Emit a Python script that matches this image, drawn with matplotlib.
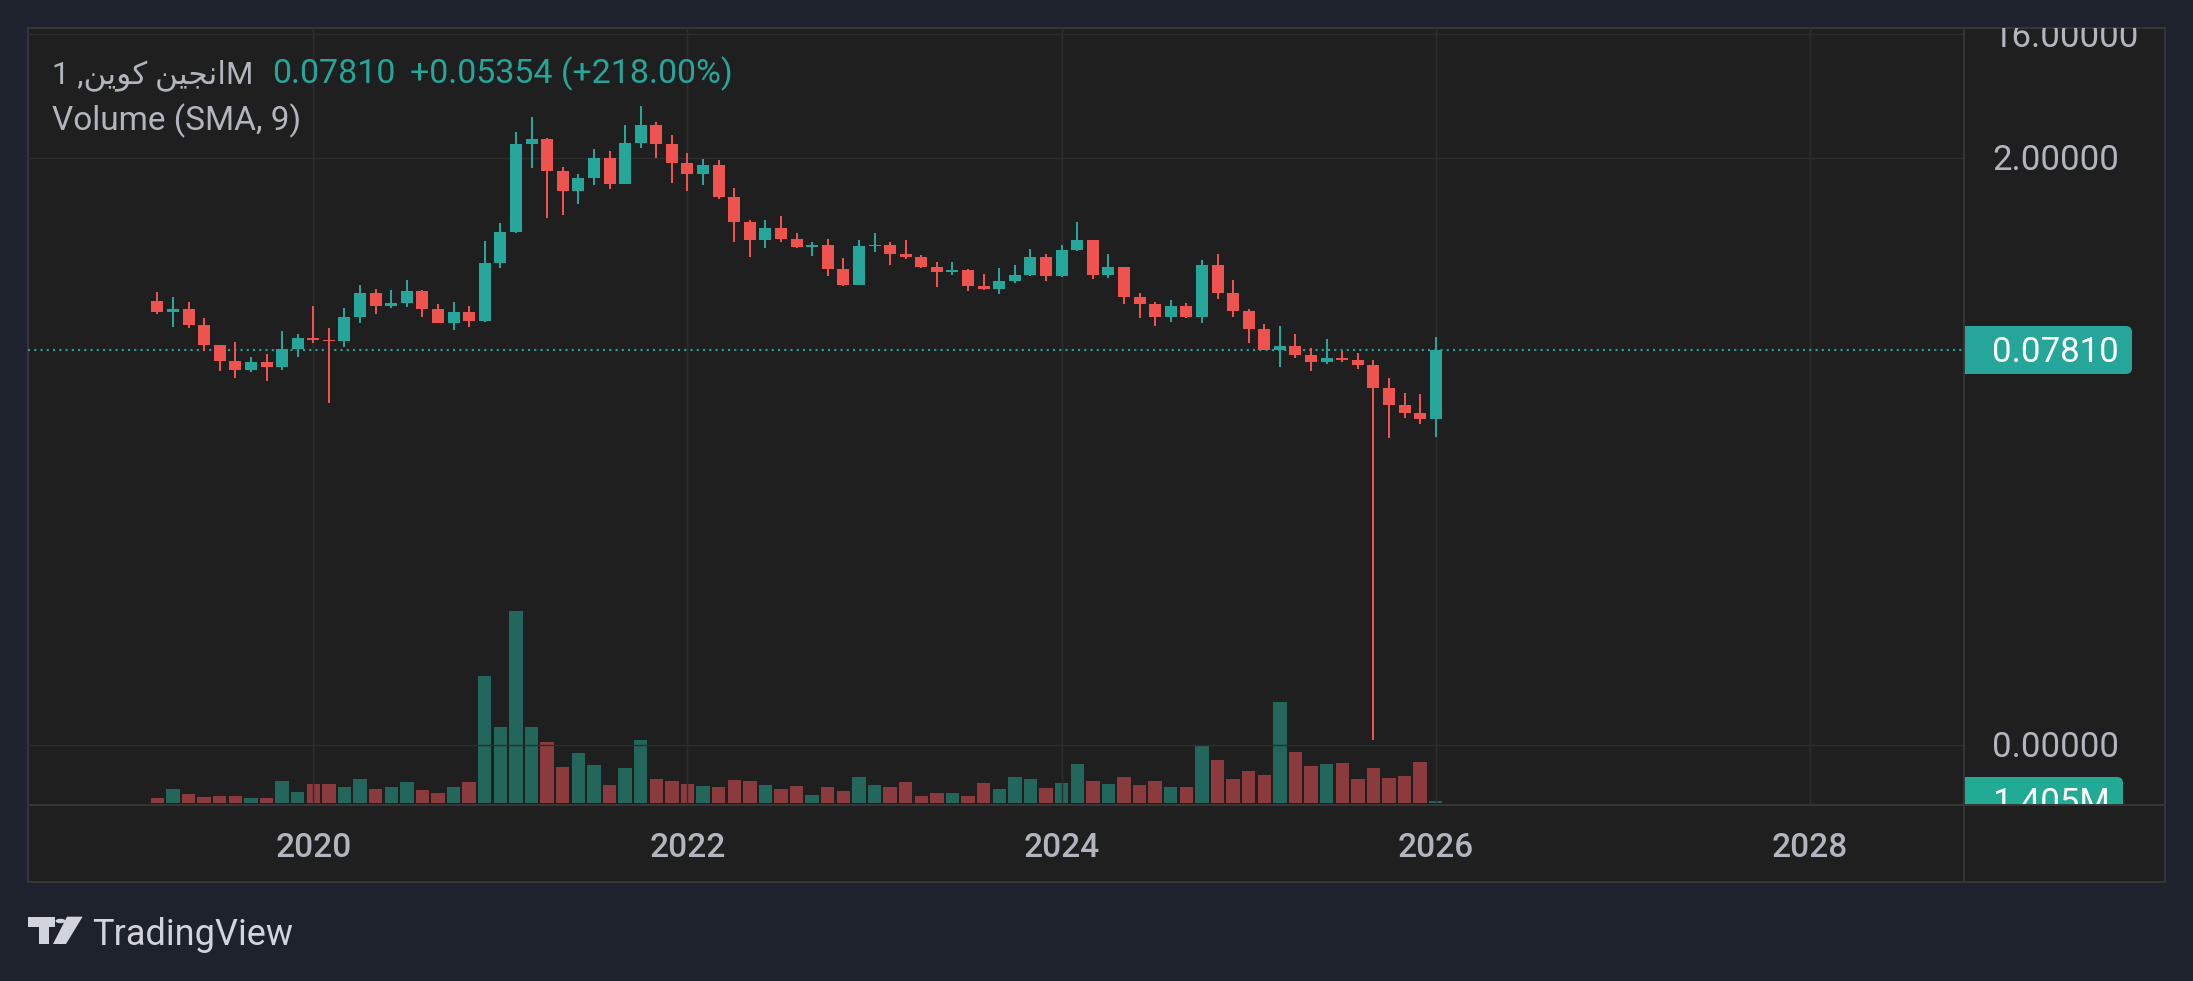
"""
Monthly candlestick chart (log price scale) with a volume overlay,
drawn to look like the TradingView dark-theme snapshot.
"""

import matplotlib
matplotlib.use("Agg")  # save-only, no display
import matplotlib.pyplot as plt
import numpy as np
import pandas as pd
from matplotlib.patches import Rectangle, FancyBboxPatch, Polygon, Circle
from matplotlib.lines import Line2D

W, H = 2193, 981

# ---- data (monthly bars, Mar 2019 .. Jan 2026) ----
months = pd.period_range("2019-03", "2026-01", freq="M")

opens = [
    .1785, .1482, .1560, .1191, .0850, .0649, .0557, .0638, .0586, .0794,
    .0956, .0925, .0905, .1363, .2042, .1640, .1725, .2112, .1560, .1231,
    .1482, .1274, .3387, .5713, 2.520, 2.742, 1.598, 1.141, 1.420, 1.990,
    1.284, 2.563, 3.472, 2.520, 1.829, 1.520, 1.769, 1.031, .6763, .4992,
    .6112, .5078, .4437, .4589, .3062, .2338, .4512, .4589, .3943, .3748,
    .3167, .2910, .3010, .2298, .2185, .2501, .2767, .3748, .2721, .4218,
    .4992, .2767, .3167, .1909, .1697, .1363, .1640, .1363, .3275, .2042,
    .1508, .1113, .0781, .0836, .0718, .0638, .0682, .0660, .0607, .0412,
    .0309, .0270, .02456,
]
highs = [
    .2077, .1909, .1755, .1340, .0852, .0894, .0694, .0730, .1076, .1023,
    .1640, .1132, .1586, .2338, .2185, .2148, .2543, .2148, .1697, .1755,
    .1640, .4909, .6650, 3.086, 3.974, 2.789, 1.710, 1.520, 2.317, 2.240,
    3.472, 4.784, 3.652, 2.934, 2.165, 1.957, 1.924, 1.200, .6995, .6995,
    .7484, .5618, .4827, .5078, .3685, .4992, .5618, .4827, .4992, .3877,
    .3445, .3445, .3050, .2814, .3113, .3275, .4289, .3943, .4589, .6763,
    .5020, .3943, .3190, .2042, .1755, .1815, .1725, .3563, .3943, .2543,
    .1560, .1211, .1171, .1023, .0808, .0940, .0768, .0742, .0660, .0487,
    .0378, .0372, .0973,
]
lows = [
    .1433, .1151, .1132, .0772, .0548, .0487, .0539, .0463, .0557, .0694,
    .0879, .0320, .0822, .1231, .1433, .1586, .1613, .1363, .1225, .1094,
    .1151, .1252, .3113, .5618, 1.681, .7235, .7611, .9162, 1.262, 1.180,
    1.280, 2.356, 1.990, 1.306, 1.141, 1.262, .9969, .4827, .3748, .4362,
    .4827, .4362, .3812, .2721, .2298, .2330, .4078, .3275, .3624, .3113,
    .2260, .2767, .2112, .2148, .2008, .2418, .2740, .2501, .2675, .4150,
    .2587, .2630, .1697, .1340, .1171, .1252, .1340, .1231, .1846, .1363,
    .0879, .0778, .0586, .0682, .0548, .0617, .0638, .0567, .000109, .0177,
    .0248, .0224, .0180,
]
closes = [
    .1482, .1560, .1191, .0850, .0649, .0557, .0638, .0586, .0794, .0956,
    .0925, .0905, .1363, .2042, .1640, .1725, .2112, .1560, .1231, .1482,
    .1274, .3387, .5713, 2.520, 2.742, 1.598, 1.141, 1.420, 1.990, 1.284,
    2.563, 3.472, 2.520, 1.829, 1.520, 1.769, 1.031, .6763, .4992, .6112,
    .5078, .4437, .4589, .3062, .2338, .4512, .4589, .3943, .3748, .3167,
    .2910, .3010, .2298, .2185, .2501, .2767, .3748, .2721, .4218, .4992,
    .2767, .3167, .1909, .1697, .1363, .1640, .1363, .3275, .2042, .1508,
    .1113, .0781, .0836, .0718, .0638, .0682, .0660, .0607, .0412, .0309,
    .0270, .02456, .0781,
]
# volume in millions
volumes = [
    3.5, 9.8, 6.3, 4.2, 4.9, 4.9, 3.5, 3.5, 15.4, 7.7,
    13.3, 13.3, 11.2, 16.8, 9.8, 11.2, 14.7, 9.1, 7.0, 11.2,
    14.7, 88.9, 53.2, 134.4, 53.2, 42.7, 25.2, 35.0, 26.6, 12.6,
    24.5, 44.1, 16.8, 15.4, 13.3, 11.9, 11.2, 16.1, 15.4, 12.6,
    9.8, 11.9, 5.6, 11.2, 8.4, 18.2, 12.6, 11.2, 14.7, 4.9,
    7.0, 7.0, 4.9, 14.0, 9.8, 18.2, 16.8, 10.5, 14.0, 27.3,
    15.4, 13.3, 18.2, 12.6, 15.4, 11.2, 11.2, 39.9, 30.1, 16.8,
    22.4, 19.6, 70.7, 35.7, 25.9, 27.3, 28.0, 16.8, 24.5, 17.5,
    18.9, 28.7, 1.405,
]

year_labels = ["2020", "2022", "2024", "2026", "2028"]
price_ticks = [16.0, 2.0, 1e-4]
price_tick_labels = ["16.00000", "2.00000", "0.00000"]

title_name = "1 ,\uFEE6\uFEF3\uFEEE\uFEDB \uFEE6\uFEF4\uFEA0\uFEE7\uFE8DM"
title_last = "0.07810"
title_change = "+0.05354 (+218.00%)"
volume_title = "Volume (SMA, 9)"
last_volume_label = "1.405M"

# ---- style ----
BG = "#1e222d"
PANE = "#1f1f1f"
BORDER = "#363636"
GRID = "#2d2d2d"
TXT = "#b2b5be"
UP = "#26a69a"
DOWN = "#ef5350"
UP_VOL = "#22665c"
DOWN_VOL = "#8b3a3e"
FONT = ["Roboto", "DejaVu Sans"]
AXIS_FS = 25
LEGEND_FS = 24.5


def fx(x):
    return x / W


def fy(y):
    return 1 - y / H


def box(left, top, right, bottom):
    return [fx(left), fy(bottom), (right - left) / W, (bottom - top) / H]


def main():
    plt.rcParams["font.family"] = FONT
    fig = plt.figure(figsize=(W / 100, H / 100), dpi=100, facecolor=BG)

    # pane background
    fig.patches.append(Rectangle((fx(28), fy(882)), (2165 - 28) / W, (882 - 28) / H,
                                 transform=fig.transFigure, facecolor=PANE,
                                 edgecolor=BORDER, lw=1.4, zorder=-5))

    x = np.arange(len(months))
    o = np.array(opens)
    hi = np.array(highs)
    lo = np.array(lows)
    c = np.array(closes)
    up = c >= o

    first = months[0]
    year_pos = [(pd.Period(f"{y}-01", freq="M") - first).n for y in map(int, year_labels)]

    # x mapping: Jan 2020 sits at px 313.3, one month = 15.59 px
    px0 = 313.3 - year_pos[0] * 15.59
    xlim = ((28 - px0) / 15.59, (1964 - px0) / 15.59)

    # volume overlay (behind)
    axv = fig.add_axes(box(28, 28, 1964, 805))
    axv.set_xlim(*xlim)
    axv.set_ylim(-1.4, 542.5)
    axv.axis("off")
    axv.bar(x, volumes, width=0.86, color=np.where(up, UP_VOL, DOWN_VOL), linewidth=0)

    # price pane
    ax = fig.add_axes(box(28, 28, 1964, 805))
    ax.patch.set_visible(False)
    ax.set_yscale("log")
    ax.set_xlim(*xlim)
    ax.set_ylim(3.63e-5, 17.83)
    ax.axis("off")

    for v in price_ticks:
        ax.axhline(v, color=GRID, lw=1.0, zorder=0)
    for p in year_pos:
        ax.axvline(p, color=GRID, lw=1.0, zorder=0)
        axv.axvline(p, color=GRID, lw=1.0, zorder=0)

    colors = np.where(up, UP, DOWN)
    ax.vlines(x, lo, hi, colors=colors, lw=1.45, zorder=2)
    ax.bar(x, np.abs(c - o), bottom=np.minimum(o, c), width=0.77, color=colors,
           linewidth=0, zorder=3)

    ax.axhline(c[-1], color=UP, lw=1.5, linestyle=(0, (1, 2)), zorder=1)

    # separators
    fig.add_artist(Line2D([fx(1964), fx(1964)], [fy(28), fy(882)], color=BORDER, lw=1.4))
    fig.add_artist(Line2D([fx(28), fx(2165)], [fy(805), fy(805)], color=BORDER, lw=1.4))

    # price scale (clipped to its own box)
    axs = fig.add_axes(box(1964, 28, 2165, 805))
    axs.set_xlim(1964, 2165)
    axs.set_ylim(H - 805, H - 28)
    axs.axis("off")

    def ydisp(axis, val):
        return axis.transData.transform((0, val))[1]

    half_cap = 0.711 * AXIS_FS * 100 / 72 / 2
    for v, lab in zip(price_ticks, price_tick_labels):
        axs.text(1992, ydisp(ax, v) - half_cap, lab, color=TXT, fontsize=AXIS_FS,
                 va="baseline", ha="left", clip_on=True)

    yc = ydisp(ax, c[-1])
    axs.add_patch(FancyBboxPatch((1958, yc - 24), 174, 48,
                                 boxstyle="round,pad=0,rounding_size=6",
                                 fc=UP, ec="none", clip_on=True))
    axs.text(1992, yc - half_cap, title_last, color="white", fontsize=AXIS_FS,
             va="baseline", ha="left", clip_on=True)

    yv = ydisp(axv, volumes[-1])
    axs.add_patch(FancyBboxPatch((1958, yv - 24), 165, 48,
                                 boxstyle="round,pad=0,rounding_size=6",
                                 fc="#22ab94", ec="none", clip_on=True))
    axs.text(1992, yv - half_cap, last_volume_label, color="white", fontsize=AXIS_FS,
             va="baseline", ha="left", clip_on=True)

    # time axis labels
    for p, lab in zip(year_pos, year_labels):
        xp = px0 + p * 15.59
        fig.text(fx(xp), fy(857), lab, color=TXT, fontsize=24, fontweight="medium",
                 ha="center", va="baseline")

    # legend texts
    fig.text(fx(51.5), fy(83), title_name, color=TXT, fontsize=22.5, ha="left", va="baseline")
    fig.text(fx(272.5), fy(83), title_last, color=UP, fontsize=LEGEND_FS, ha="left", va="baseline")
    fig.text(fx(409.5), fy(83), title_change, color=UP, fontsize=LEGEND_FS, ha="left", va="baseline")
    fig.text(fx(51.5), fy(130), volume_title, color=TXT, fontsize=24, ha="left", va="baseline")

    # TradingView watermark
    logo = "#d1d4dc"
    t_shape = [(27.7, 916.7), (54.5, 916.7), (54.5, 926.7), (49.1, 926.7),
               (49.1, 944.0), (39.3, 944.0), (39.3, 926.7), (27.7, 926.7)]
    fig.add_artist(Polygon([(fx(a), fy(b)) for a, b in t_shape], closed=True,
                           transform=fig.transFigure, fc=logo, ec="none"))
    slash = [(67.0, 916.7), (82.6, 916.7), (66.0, 944.0), (53.0, 944.0)]
    fig.add_artist(Polygon([(fx(a), fy(b)) for a, b in slash], closed=True,
                           transform=fig.transFigure, fc=logo, ec="none"))
    fig.add_artist(Circle((fx(60.5), fy(921.0)), 5.0 / W, transform=fig.transFigure,
                          fc=logo, ec="none"))
    fig.text(fx(92), fy(945), "TradingView", color=logo, fontsize=26,
             ha="left", va="baseline")

    fig.savefig("out.png", dpi=100, facecolor=BG)
    plt.close(fig)


if __name__ == "__main__":
    main()
